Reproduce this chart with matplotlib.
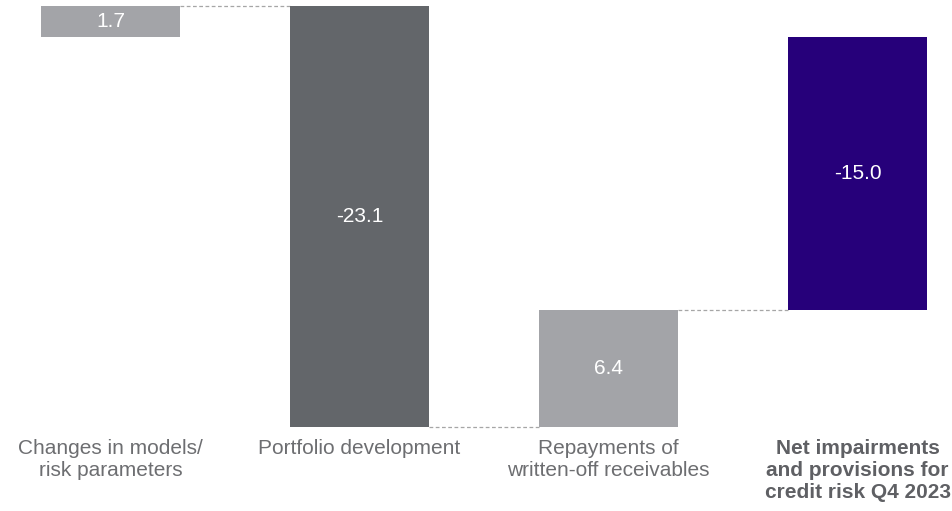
import matplotlib.pyplot as plt
import numpy as np

plt.rcParams['font.family'] = ['Liberation Sans', 'DejaVu Sans']

categories = ['Changes in models/\nrisk parameters', 'Portfolio development',
              'Repayments of\nwritten-off receivables',
              'Net impairments\nand provisions for\ncredit risk Q4 2023']
values = [1.7, -23.1, 6.4, -15.0]
is_total = [False, False, False, True]
colors = ['#a3a4a8', '#63666a', '#a3a4a8', '#26007a']

# waterfall bottoms
bottoms = []
running = 0.0
for v, tot in zip(values, is_total):
    if tot:
        bottoms.append(0.0)
    else:
        bottoms.append(running)
        running += v
tops = [b + v for b, v in zip(bottoms, values)]

fig = plt.figure(figsize=(9.53, 5.11), dpi=100)
ax = fig.add_axes([0, 0, 1, 1])
x = np.arange(len(values))
width = 0.558

ax.bar(x, values, bottom=bottoms, width=width, color=colors, zorder=2)

# dashed connectors at the running level
for i in range(len(values) - 1):
    ax.plot([x[i] + width / 2, x[i + 1] - width / 2], [tops[i], tops[i]],
            color='#a6a6a6', lw=0.9, ls=(0, (3, 2)), zorder=1)

# value labels
for i, (b, v) in enumerate(zip(bottoms, values)):
    ax.text(x[i], b + v / 2, f'{v:.1f}', ha='center', va='center',
            color='white', fontsize=15)

# category labels
for i, lab in enumerate(categories):
    ax.text(x[i], -22.05, lab, ha='center', va='top', fontsize=15,
            color='#5f6064' if is_total[i] else '#6d6e71',
            fontweight='bold' if is_total[i] else 'normal', linespacing=1.2)

ax.set_xlim(-0.4438, 3.3835)
ax.set_ylim(-26.02, 2.03)
ax.axis('off')

fig.savefig('out.png', dpi=100)
